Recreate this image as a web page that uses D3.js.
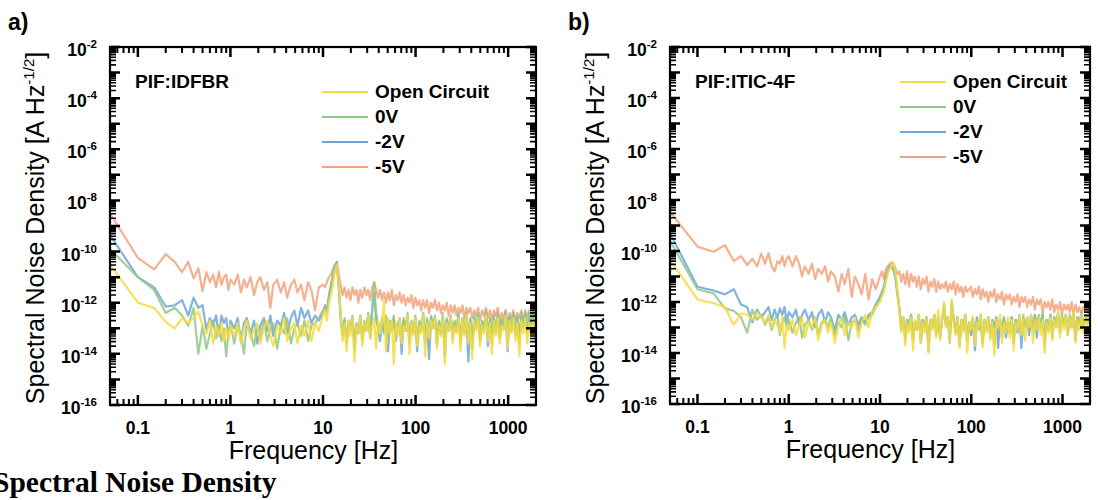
<!DOCTYPE html>
<html>
<head>
<meta charset="utf-8">
<script src="https://cdn.jsdelivr.net/npm/d3@7"></script>
<style>
  body { margin: 0; background: #fff; }
  svg text { font-family: "Liberation Sans", Arial, sans-serif; fill: #000; }
</style>
</head>
<body>
<svg id="chart" width="1098" height="500"></svg>
<script>
// frequency grid (Hz), shared by every trace
var freqs = [0.05,0.1,0.15,0.2,0.25,0.3,0.35,0.4,0.45,0.5,0.55,0.6,0.65,0.7,0.75,0.8,0.85,0.9,0.95,1.0,
  1.1,1.2,1.3,1.4,1.5,1.65,1.8,1.95,2.1,2.3,2.5,2.7,2.9,3.2,3.5,3.8,4.1,4.5,4.9,5.3,5.8,6.3,6.9,7.5,8.2,9.0,
  10,10.5,11,11.6,12.2,12.8,13.4,14.1,14.8,15.5,16.3,17.1,18,18.9,19.8,20.8,21.9,23,24.1,25.3,
  26.6,28,29.4,30.8,32.4,34,35.7,37.5,39.4,41.3,43.4,45.6,47.9,50.3,52.8,55.4,58.2,61.1,64.2,67.4,
  70.7,74.3,78,81.9,86,90.3,94.8,
  99.5,104,110,115,121,127,133,140,147,154,162,170,179,188,197,207,217,228,240,252,
  264,277,291,306,321,337,354,372,390,410,430,452,474,498,523,549,577,605,636,668,
  701,736,773,811,852,895,939,986,1035,1087,1142,1199,1259,1321,1388,1457,1530,1606,1686,1771,
  1859,1952,2000];

// log10 of noise density [A Hz^-1/2], panel a) PIF:IDFBR
var aOpen = [-10.5,-12.0,-12.2,-12.75,-13.0,-12.6,-12.8,-12.6,-12.35,-12.9,
  -13.2,-12.7,-13.6,-12.9,-13.3,-12.8,-13.5,-13.0,-13.4,-12.9,
  -13.3,-12.8,-13.6,-13.0,-12.7,-13.4,-13.1,-12.8,-13.6,-13.0,
  -12.7,-13.3,-13.7,-12.9,-13.2,-12.6,-13.5,-13.0,-12.8,-13.6,
  -12.9,-13.3,-12.7,-13.5,-12.8,-13.1,
  -12.5,-12.3,-12.7,-12.0,-11.7,-11.3,-10.8,-10.5,-11.2,-12.4,
  -13.5,-12.8,-13.9,-12.7,-13.3,-12.6,-14.3,-12.9,-13.2,-12.6,
  -13.7,-12.8,-13.1,-12.5,-13.4,-12.9,-12.6,-13.8,-12.7,-13.2,
  -12.8,-11.95,-13.9,-12.6,-13.2,-12.7,-14.4,-12.8,-13.3,-12.6,
  -13.6,-12.9,-13.1,-12.5,-14.0,-12.8,-13.3,
  -12.6,-13.7,-12.9,-13.2,-12.5,-14.1,-12.8,-13.4,-12.7,-13.0,
  -12.6,-13.8,-12.9,-13.3,-12.5,-14.4,-12.8,-13.1,-12.6,-13.6,
  -12.9,-13.2,-12.6,-13.9,-12.7,-13.3,-12.5,-13.6,-12.8,-14.2,
  -12.7,-13.1,-12.6,-13.7,-12.9,-13.2,-12.5,-13.5,-12.8,-14.0,
  -12.7,-13.3,-12.6,-13.6,-12.9,-13.1,-12.5,-13.8,-12.7,-13.2,
  -12.6,-13.5,-12.8,-14.1,-12.7,-13.2,-12.6,-13.6,-12.8,-13.3,
  -12.7,-13.5,-12.9];
var aZero = [-9.9,-11.0,-11.5,-12.4,-12.2,-12.5,-12.9,-12.2,-14.0,-12.9,
  -13.8,-13.2,-12.7,-13.4,-12.9,-13.5,-13.0,-14.1,-13.2,-12.8,
  -13.6,-12.9,-13.3,-14.0,-12.8,-13.2,-13.7,-12.9,-13.4,-12.7,
  -13.5,-13.0,-12.8,-13.8,-12.9,-13.2,-12.6,-13.6,-13.0,-12.8,
  -13.3,-12.7,-13.5,-12.9,-12.8,-12.6,
  -12.3,-12.2,-12.4,-11.8,-11.4,-11.0,-10.7,-10.55,-11.4,-12.5,
  -13.2,-12.6,-13.5,-12.7,-13.0,-12.5,-13.6,-12.8,-13.1,-12.5,
  -13.4,-12.7,-13.0,-12.4,-13.3,-12.2,-11.2,-12.4,-12.8,-13.3,
  -12.6,-13.1,-12.5,-13.6,-12.7,-13.0,-12.5,-13.4,-12.8,-12.6,
  -13.3,-12.6,-13.0,-12.4,-13.5,-12.7,-13.1,
  -12.5,-13.4,-12.7,-13.0,-12.4,-13.6,-12.6,-13.2,-12.5,-12.9,
  -12.5,-13.5,-12.7,-13.1,-12.4,-13.7,-12.6,-13.0,-12.5,-13.3,
  -12.7,-13.0,-12.4,-13.5,-12.6,-13.1,-12.4,-13.3,-12.6,-13.8,
  -12.5,-12.9,-12.4,-13.4,-12.7,-13.0,-12.3,-13.2,-12.6,-13.6,
  -12.5,-13.1,-12.4,-13.3,-12.6,-12.9,-12.3,-13.4,-12.5,-13.0,
  -12.4,-13.2,-12.5,-13.5,-12.4,-12.9,-12.3,-13.1,-12.4,-12.8,
  -12.2,-12.9,-12.4];
var aTwo = [-9.35,-11.0,-11.4,-12.15,-12.1,-11.9,-12.5,-11.8,-12.2,-12.1,
  -13.05,-12.6,-12.9,-12.5,-13.3,-12.5,-12.8,-12.6,-13.4,-12.7,
  -13.0,-12.6,-13.5,-12.8,-12.6,-13.2,-12.7,-13.6,-12.9,-12.6,
  -13.1,-12.5,-13.3,-12.7,-12.9,-12.4,-13.2,-12.6,-12.3,-12.9,
  -12.2,-12.6,-12.3,-12.8,-12.5,-12.7,
  -12.4,-12.1,-12.3,-11.7,-11.3,-10.9,-10.6,-10.4,-11.3,-12.6,
  -13.3,-12.7,-13.6,-12.8,-13.1,-12.6,-13.8,-12.9,-13.2,-12.6,
  -13.5,-12.8,-13.1,-12.5,-13.4,-12.3,-11.6,-12.7,-13.0,-13.5,
  -12.7,-13.2,-12.6,-13.9,-12.8,-13.1,-12.6,-13.5,-12.9,-12.7,
  -14.0,-12.7,-13.1,-12.5,-13.6,-12.8,-13.2,
  -12.6,-13.9,-12.8,-13.1,-12.5,-13.5,-12.7,-14.2,-12.6,-13.0,
  -12.6,-13.6,-12.8,-13.2,-12.5,-14.1,-12.7,-13.1,-12.6,-13.4,
  -12.8,-13.1,-12.5,-13.6,-12.7,-13.2,-12.5,-14.3,-12.7,-13.5,
  -12.6,-13.0,-12.5,-13.5,-12.8,-13.1,-12.4,-13.7,-12.7,-13.2,
  -12.6,-13.2,-12.5,-13.4,-12.7,-13.0,-12.4,-13.9,-12.6,-13.1,
  -12.5,-13.3,-12.6,-13.6,-12.5,-13.0,-12.4,-13.2,-12.6,-12.9,
  -12.5,-13.1,-12.6];
var aFive = [-8.5,-10.25,-10.7,-10.1,-10.4,-10.8,-10.4,-11.05,-10.65,-11.55,
  -10.8,-11.2,-10.9,-11.4,-10.8,-11.3,-11.0,-10.9,-11.5,-11.1,
  -11.3,-10.9,-11.6,-11.1,-11.4,-11.0,-11.7,-11.2,-11.0,-11.5,
  -11.2,-12.2,-11.3,-11.1,-11.6,-11.2,-11.8,-11.3,-11.1,-11.6,
  -11.3,-11.9,-11.2,-11.5,-12.3,-11.4,
  -11.3,-11.4,-11.2,-11.0,-10.9,-10.7,-10.5,-10.45,-10.9,-11.3,
  -11.7,-11.4,-11.8,-11.5,-11.9,-11.4,-11.7,-11.5,-12.0,-11.5,
  -11.8,-11.4,-11.7,-11.5,-11.9,-11.4,-11.2,-11.5,-11.8,-11.5,
  -11.9,-11.6,-12.0,-11.6,-11.9,-11.5,-12.1,-11.7,-11.9,-11.6,
  -12.0,-11.7,-12.1,-11.8,-12.0,-11.7,-12.2,
  -11.8,-12.1,-11.9,-12.3,-11.9,-12.2,-11.9,-12.4,-12.0,-12.2,
  -11.9,-12.3,-12.0,-12.4,-12.1,-12.3,-12.0,-12.5,-12.1,-12.4,
  -12.1,-12.5,-12.2,-12.4,-12.1,-12.6,-12.2,-12.4,-12.2,-12.6,
  -12.3,-12.5,-12.2,-12.7,-12.3,-12.5,-12.2,-12.6,-12.3,-12.7,
  -12.3,-12.5,-12.2,-12.7,-12.4,-12.6,-12.3,-12.8,-12.4,-12.6,
  -12.3,-12.7,-12.4,-12.6,-12.3,-12.8,-12.4,-12.6,-12.3,-12.7,
  -12.4,-12.6,-12.5];

// panel b) PIF:ITIC-4F
var bOpen = [-10.35,-11.9,-12.05,-12.2,-12.9,-12.45,-12.5,-12.7,-12.4,-12.6,
  -12.8,-12.5,-13.0,-12.7,-12.9,-13.2,-12.6,-13.8,-12.9,-13.1,
  -12.7,-13.3,-12.9,-12.6,-13.4,-12.8,-13.0,-12.6,-13.5,-12.9,
  -12.7,-13.2,-12.8,-13.6,-12.9,-12.6,-13.3,-12.8,-13.0,-12.6,
  -13.4,-12.8,-12.5,-13.0,-12.4,-12.2,
  -12.0,-11.8,-11.6,-11.2,-10.9,-10.7,-10.6,-10.5,-10.8,-11.5,
  -12.3,-13.2,-12.6,-13.7,-12.8,-13.2,-12.6,-13.9,-12.7,-13.1,
  -12.5,-13.6,-12.8,-13.2,-12.6,-14.0,-12.7,-13.1,-12.5,-13.4,
  -12.3,-13.5,-12.7,-12.0,-13.0,-12.6,-13.6,-11.9,-12.8,-13.3,
  -12.6,-13.8,-12.7,-13.2,-12.5,-14.0,-12.8,
  -13.1,-12.6,-13.7,-12.8,-13.0,-12.5,-13.8,-12.7,-13.2,-12.6,
  -13.5,-12.8,-14.1,-12.7,-13.0,-12.5,-13.6,-12.8,-13.2,-12.6,
  -13.4,-12.7,-13.9,-12.8,-13.1,-12.5,-13.3,-12.7,-13.5,-12.6,
  -13.0,-12.5,-13.6,-12.7,-13.1,-12.6,-13.3,-12.7,-14.0,-12.8,
  -13.2,-12.6,-13.5,-12.7,-13.0,-12.4,-13.4,-12.6,-13.1,-12.5,
  -13.3,-12.6,-13.0,-12.4,-13.6,-12.7,-13.1,-12.5,-13.2,-12.6,
  -12.9,-12.5,-12.8];
var bZero = [-9.6,-11.5,-11.66,-12.25,-12.35,-12.6,-13.2,-12.3,-12.7,-12.5,
  -12.9,-12.6,-13.1,-12.7,-12.5,-13.3,-12.8,-12.6,-13.0,-12.7,
  -13.2,-12.8,-12.6,-13.4,-12.9,-12.7,-13.1,-12.6,-13.3,-12.8,
  -12.7,-13.0,-12.6,-13.3,-12.8,-13.0,-12.6,-13.5,-12.8,-12.7,
  -13.1,-12.7,-12.9,-12.6,-12.5,-12.2,
  -11.9,-11.7,-11.5,-11.1,-10.8,-10.55,-10.6,-10.7,-11.0,-11.6,
  -12.2,-12.9,-12.6,-13.3,-12.7,-13.0,-12.5,-13.4,-12.8,-13.0,
  -12.5,-13.3,-12.7,-13.0,-12.6,-13.5,-12.7,-13.0,-12.5,-13.2,
  -12.6,-13.3,-12.7,-12.2,-12.9,-12.6,-13.4,-12.1,-12.7,-13.1,
  -12.6,-13.6,-12.7,-13.0,-12.5,-13.4,-12.8,
  -12.9,-12.6,-13.4,-12.7,-13.1,-12.5,-13.5,-12.7,-13.0,-12.6,
  -13.3,-12.8,-13.7,-12.6,-13.0,-12.7,-13.4,-12.6,-13.1,-12.8,
  -13.2,-12.6,-13.5,-12.7,-12.9,-12.6,-13.3,-12.5,-13.0,-12.7,
  -12.9,-12.5,-13.2,-12.6,-12.8,-12.5,-13.0,-12.4,-13.6,-12.7,
  -13.0,-12.5,-13.3,-12.6,-12.8,-12.4,-13.1,-12.5,-12.9,-12.5,
  -13.1,-12.5,-12.8,-12.4,-13.2,-12.6,-12.9,-12.4,-13.0,-12.5,
  -12.7,-12.4,-12.6];
var bTwo = [-9.3,-11.4,-11.55,-11.7,-11.5,-12.1,-12.2,-12.8,-12.3,-12.6,
  -12.4,-12.2,-12.7,-12.3,-12.6,-12.25,-12.5,-12.2,-12.8,-12.4,
  -12.6,-12.3,-12.9,-12.5,-12.3,-12.7,-12.4,-13.0,-12.5,-12.3,
  -12.8,-12.4,-12.6,-13.1,-12.5,-12.7,-12.4,-12.9,-12.6,-12.5,
  -12.9,-12.6,-12.8,-12.5,-12.4,-12.1,
  -11.8,-11.6,-11.4,-11.0,-10.75,-10.6,-10.65,-10.75,-11.1,-11.7,
  -12.3,-13.1,-12.6,-13.5,-12.7,-12.9,-12.5,-13.5,-12.8,-13.1,
  -12.5,-13.6,-12.7,-13.0,-12.6,-13.9,-12.7,-13.0,-12.5,-13.3,
  -12.6,-13.4,-12.7,-12.1,-12.9,-12.6,-13.6,-12.0,-12.7,-13.2,
  -12.6,-13.7,-12.7,-13.1,-12.5,-13.5,-12.8,
  -13.3,-12.7,-13.9,-12.6,-13.0,-12.8,-13.6,-12.7,-13.1,-12.6,
  -13.4,-12.7,-13.0,-12.6,-13.8,-12.7,-13.1,-12.6,-13.4,-12.8,
  -13.0,-12.6,-13.6,-12.7,-13.2,-12.5,-13.8,-12.7,-13.0,-12.6,
  -13.3,-12.6,-13.0,-12.5,-13.4,-12.6,-12.9,-12.5,-13.7,-12.7,
  -13.1,-12.5,-13.4,-12.6,-13.0,-12.5,-13.2,-12.6,-12.9,-12.5,
  -13.3,-12.6,-13.0,-12.5,-13.5,-12.6,-12.9,-12.5,-13.0,-12.6,
  -12.8,-12.5,-12.7];
var bFive = [-8.46,-9.83,-10.03,-9.77,-10.4,-10.2,-10.55,-10.3,-10.6,-10.1,
  -10.5,-10.08,-10.6,-10.8,-10.4,-10.5,-10.2,-10.6,-10.3,-10.2,
  -10.6,-10.2,-10.5,-11.0,-10.6,-10.9,-10.5,-11.1,-10.7,-10.9,
  -10.6,-11.2,-10.8,-11.0,-11.6,-10.9,-11.3,-10.7,-11.8,-11.0,
  -11.3,-11.7,-10.9,-11.9,-11.1,-11.5,
  -11.0,-10.8,-11.1,-10.7,-10.6,-10.5,-10.45,-10.5,-10.7,-10.9,
  -10.8,-11.2,-10.9,-11.3,-10.8,-11.4,-10.9,-11.2,-11.0,-11.4,
  -11.0,-11.5,-11.1,-11.3,-11.0,-11.6,-11.2,-11.4,-11.1,-11.6,
  -11.2,-11.5,-11.3,-11.45,-11.2,-11.6,-11.3,-11.5,-11.2,-11.7,
  -11.3,-11.6,-11.4,-11.8,-11.4,-11.6,-11.5,
  -11.4,-11.8,-11.5,-11.7,-11.4,-11.9,-11.5,-11.8,-11.6,-12.0,
  -11.6,-11.8,-11.5,-12.0,-11.7,-11.9,-11.6,-12.1,-11.7,-11.9,
  -11.7,-12.1,-11.8,-12.0,-11.7,-12.2,-11.8,-12.0,-11.8,-12.2,
  -11.9,-12.1,-11.8,-12.3,-11.9,-12.1,-11.9,-12.4,-12.0,-12.2,
  -12.0,-12.3,-11.9,-12.4,-12.1,-12.3,-12.0,-12.5,-12.1,-12.3,
  -12.1,-12.4,-12.0,-12.5,-12.1,-12.4,-12.2,-12.5,-12.2,-12.4,
  -12.2,-12.5,-12.3];

var seriesNames = ['Open Circuit', '0V', '-2V', '-5V'];
var seriesColors = ['#f6dc3e', '#92c78b', '#6fa6d8', '#f4a27c'];
var xTickLabels = ['0.1', '1', '10', '100', '1000'];
var xMajor = [0.1, 1, 10, 100, 1000];
var yLabelExps = [-2, -4, -6, -8, -10, -12, -14, -16];

var svg = d3.select('#chart');

var panels = [
  { tag: 'a)', tagX: 8, sample: 'PIF:IDFBR', series: [aOpen, aZero, aTwo, aFive],
    left: 110, right: 536, top: 47, bottom: 405, titleX: 44, legX: 322, legY: 92 },
  { tag: 'b)', tagX: 568, sample: 'PIF:ITIC-4F', series: [bOpen, bZero, bTwo, bFive],
    left: 670, right: 1090, top: 47, bottom: 404, titleX: 604, legX: 900, legY: 82 }
];

// tick positions (2..9 per decade)
var xMinor = [], yMinor = [], yMajor = [];
[0.01, 0.1, 1, 10, 100, 1000].forEach(function(d){
  for (var m = 2; m <= 9; m++) {
    var v = m * d;
    if (v >= 0.05 && v <= 2000) xMinor.push(v);
  }
});
for (var k = -16; k <= -2; k++) {
  yMajor.push(Math.pow(10, k));
  if (k < -2) for (var m = 2; m <= 9; m++) yMinor.push(m * Math.pow(10, k));
}

// inward tick marks, one path per edge
function tickPath(g, pos, values, fixed, dir, len, horizontal, width){
  var pth = d3.path();
  values.forEach(function(v){
    var c = pos(v);
    if (horizontal) { pth.moveTo(c, fixed); pth.lineTo(c, fixed + dir * len); }
    else { pth.moveTo(fixed, c); pth.lineTo(fixed + dir * len, c); }
  });
  g.append('path').attr('d', pth.toString())
    .attr('fill', 'none').attr('stroke', '#000').attr('stroke-width', width);
}

panels.forEach(function(p, pi){
  var x = d3.scaleLog().domain([0.05, 2000]).range([p.left, p.right]);
  var y = d3.scaleLog().domain([1e-16, 1e-2]).range([p.bottom, p.top]);
  var g = svg.append('g');

  var clipId = 'clip' + pi;
  svg.append('clipPath').attr('id', clipId).append('rect')
    .attr('x', p.left).attr('y', p.top)
    .attr('width', p.right - p.left).attr('height', p.bottom - p.top);

  var line = d3.line()
    .x(function(d){ return x(d[0]); })
    .y(function(d){ return y(Math.pow(10, d[1])); });

  // -5V first, the others on top of it
  var plot = g.append('g').attr('clip-path', 'url(#' + clipId + ')');
  [3, 2, 1, 0].forEach(function(si){
    var pts = freqs.map(function(f, i){ return [f, p.series[si][i]]; });
    plot.append('path')
      .datum(pts)
      .attr('d', line)
      .attr('fill', 'none')
      .attr('stroke', seriesColors[si])
      .attr('stroke-width', 2.2)
      .attr('stroke-linejoin', 'round')
      .attr('opacity', 0.85);
  });

  tickPath(g, x, xMajor, p.bottom, -1, 10, true, 2.5);
  tickPath(g, x, xMinor, p.bottom, -1, 6, true, 2);
  tickPath(g, x, xMajor, p.top, 1, 10, true, 2.5);
  tickPath(g, x, xMinor, p.top, 1, 6, true, 2);
  tickPath(g, y, yMajor, p.left, 1, 10, false, 2.5);
  tickPath(g, y, yMinor, p.left, 1, 6, false, 1.6);
  tickPath(g, y, yMajor, p.right, -1, 10, false, 2.5);
  tickPath(g, y, yMinor, p.right, -1, 6, false, 1.6);

  g.append('rect')
    .attr('x', p.left).attr('y', p.top)
    .attr('width', p.right - p.left).attr('height', p.bottom - p.top)
    .attr('fill', 'none').attr('stroke', '#000').attr('stroke-width', 2.2);

  // x tick labels
  g.selectAll('.xlab').data(xMajor).enter().append('text')
    .attr('x', function(d){ return x(d); })
    .attr('y', p.bottom + 29)
    .attr('text-anchor', 'middle')
    .attr('font-size', 17.5).attr('font-weight', 'bold')
    .text(function(d, i){ return xTickLabels[i]; });

  // y tick labels 10^n
  yLabelExps.forEach(function(ex){
    var t = g.append('text')
      .attr('x', p.left - 13)
      .attr('y', y(Math.pow(10, ex)) + 9)
      .attr('text-anchor', 'end')
      .attr('font-weight', 'bold').attr('font-size', 17.5);
    t.append('tspan').text('10');
    t.append('tspan').attr('dy', -8).attr('font-size', 11.5).text(ex);
  });

  // axis titles
  g.append('text')
    .attr('x', (p.left + p.right) / 2 - 9.5)
    .attr('y', p.bottom + 54)
    .attr('text-anchor', 'middle')
    .attr('font-size', 25)
    .text('Frequency [Hz]');

  var yt = g.append('text')
    .attr('transform', 'translate(' + p.titleX + ',228) rotate(-90)')
    .attr('text-anchor', 'middle')
    .attr('font-size', 25);
  yt.append('tspan').text('Spectral Noise Density [A Hz');
  yt.append('tspan').attr('dy', -10).attr('font-size', 15).text('-1/2');
  yt.append('tspan').attr('dy', 10).text(']');

  // panel letter and sample name
  g.append('text').attr('x', p.tagX).attr('y', 30)
    .attr('font-size', 23).attr('font-weight', 'bold').text(p.tag);
  g.append('text').attr('x', p.left + 25).attr('y', 88)
    .attr('font-size', 19).attr('font-weight', 'bold').text(p.sample);

  // legend
  seriesNames.forEach(function(name, i){
    var ly = p.legY + i * 25;
    g.append('line')
      .attr('x1', p.legX).attr('x2', p.legX + 46)
      .attr('y1', ly).attr('y2', ly)
      .attr('stroke', seriesColors[i]).attr('stroke-width', 2);
    g.append('text')
      .attr('x', p.legX + 53).attr('y', ly + 6)
      .attr('font-size', 19).attr('font-weight', 'bold')
      .text(name);
  });
});

svg.append('text')
  .attr('x', -7).attr('y', 492)
  .style('font-family', '"Liberation Serif", "Times New Roman", serif')
  .attr('font-size', 29.5).attr('font-weight', 'bold')
  .text('Spectral Noise Density');
</script>
</body>
</html>
